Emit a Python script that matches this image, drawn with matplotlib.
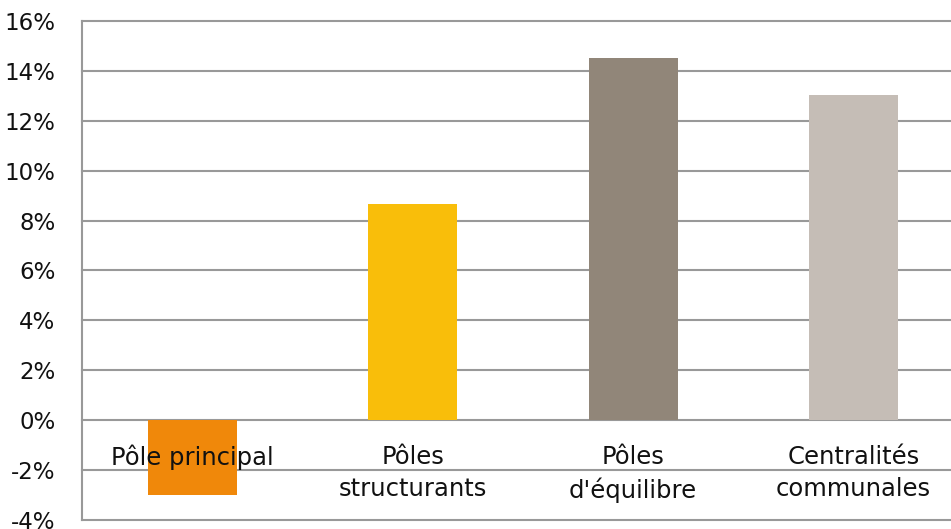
import matplotlib
matplotlib.use("Agg")
import matplotlib.pyplot as plt
from matplotlib.ticker import FuncFormatter

categories = ["Pôle principal", "Pôles\nstructurants", "Pôles\nd'équilibre", "Centralités\ncommunales"]
values = [-3.0, 8.68, 14.52, 13.04]
colors = ["#F0880A", "#F9BE0A", "#918679", "#C5BDB6"]
yticks = list(range(-4, 17, 2))

plt.rcParams['font.family'] = ['DejaVu Sans']

fig = plt.figure(figsize=(9.51, 5.29), dpi=100)
ax = fig.add_axes([82/951, 1-520/529, 881.75/951, 499/529])

x = list(range(len(categories)))
ax.bar(x, values, width=0.404, color=colors, zorder=2)
ax.set_xlim(-0.5, 3.5)
ax.set_ylim(-4, 16)
ax.set_yticks(yticks)
ax.yaxis.set_major_formatter(FuncFormatter(lambda v, p: f"{int(v)}%"))
ax.grid(axis='y', color='#999999', linewidth=1.5, zorder=1)
for gl in ax.get_ygridlines():
    gl.set_clip_on(False)
ax.set_xticks([])
for s in ['top', 'right', 'bottom']:
    ax.spines[s].set_visible(False)
ax.spines['left'].set_color('#999999')
ax.spines['left'].set_linewidth(1.5)
ax.tick_params(axis='y', length=0, pad=19, labelsize=16.5, labelcolor='#111111')

for i, c in enumerate(categories):
    ax.text(i, -0.98, c, ha='center', va='top', fontsize=17.5, color='#111111',
            linespacing=1.45, zorder=3)

fig.savefig("out.png", dpi=100)
